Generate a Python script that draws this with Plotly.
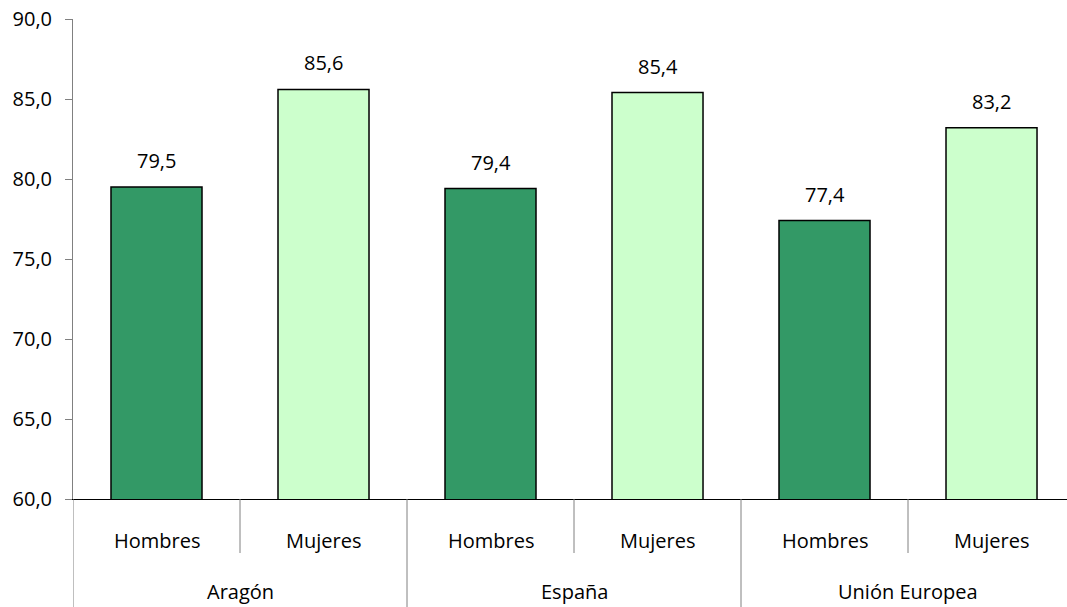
import plotly.graph_objects as go

regiones = ["Aragón", "España", "Unión Europea"]
sexos = ["Hombres", "Mujeres"]
valores = [79.5, 85.6, 79.4, 85.4, 77.4, 83.2]
colores = ["#339966", "#CCFFCC"]

FONT = "Open Sans"
FS = 20
PLOT_H = 480  # pixel height of plotting area

# positions of bars as category indices
idx = list(range(len(valores)))
etiquetas = [s for _ in regiones for s in sexos]
bar_colors = [colores[i % len(sexos)] for i in idx]

fig = go.Figure()
fig.add_trace(go.Bar(
    x=idx, y=valores,
    marker=dict(color=bar_colors, line=dict(color="black", width=1.5)),
    showlegend=False, hoverinfo="skip",
))

# value labels
for i, v in zip(idx, valores):
    fig.add_annotation(x=i, y=v, xref="x", yref="y", text=f"{v:.1f}".replace(".", ","),
                       showarrow=False, yanchor="bottom", yshift=11,
                       font=dict(family=FONT, size=FS, color="black"))

# inner category labels
for i, lab in zip(idx, etiquetas):
    fig.add_annotation(x=i, y=0, xref="x", yref="paper", text=lab, showarrow=False,
                       yanchor="middle", yshift=-41,
                       font=dict(family=FONT, size=FS, color="black"))

# outer group labels
n = len(sexos)
for g, reg in enumerate(regiones):
    fig.add_annotation(x=g * n + (n - 1) / 2, y=0, xref="x", yref="paper", text=reg,
                       showarrow=False, yanchor="middle", yshift=-92,
                       font=dict(family=FONT, size=FS, color="black"))

# separators
for g in range(len(regiones)):
    fig.add_shape(type="line", xref="x", yref="paper", x0=g * n - 0.5, x1=g * n - 0.5,
                  y0=0, y1=-110 / PLOT_H, line=dict(color="#808080", width=1))
    for k in range(1, n):
        fig.add_shape(type="line", xref="x", yref="paper", x0=g * n + k - 0.5,
                      x1=g * n + k - 0.5, y0=0, y1=-54 / PLOT_H,
                      line=dict(color="#808080", width=1))

fig.update_layout(
    width=1067, height=607,
    margin=dict(l=73, r=0, t=19, b=108, autoexpand=False),
    plot_bgcolor="white", paper_bgcolor="white",
    separators=",.",
    bargap=0.455,
    font=dict(family=FONT, size=FS, color="black"),
)
fig.update_yaxes(range=[60, 90], dtick=5, tickformat=".1f", showgrid=False,
                 showline=True, linecolor="#808080", linewidth=1,
                 ticks="outside", ticklen=7, tickcolor="#808080", zeroline=False,
                 automargin=False, ticklabelstandoff=9, ticklabeloverflow="allow",
                 tickfont=dict(family=FONT, size=FS, color="black"))
fig.update_xaxes(range=[-0.5, 5.452], showgrid=False, showline=True, linecolor="black",
                 linewidth=1, showticklabels=False, ticks="", zeroline=False,
                 automargin=False)

fig.write_html("out.html", config={"displayModeBar": False},
               post_script="document.body.style.margin='0';document.body.style.overflow='hidden';")
